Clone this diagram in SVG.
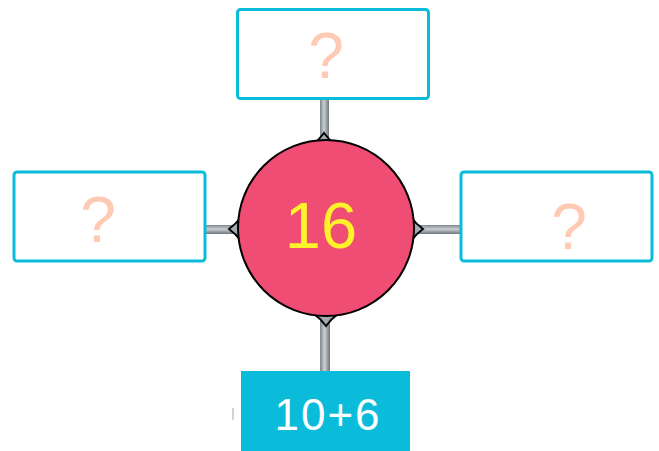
<svg xmlns="http://www.w3.org/2000/svg" width="659" height="451" viewBox="0 0 659 451">
  <defs>
    <linearGradient id="gv" x1="0" y1="0" x2="1" y2="0">
      <stop offset="0" stop-color="#7d868c"/>
      <stop offset="0.45" stop-color="#c9cfd3"/>
      <stop offset="1" stop-color="#6e777d"/>
    </linearGradient>
    <linearGradient id="gh" x1="0" y1="0" x2="0" y2="1">
      <stop offset="0" stop-color="#7d868c"/>
      <stop offset="0.45" stop-color="#c9cfd3"/>
      <stop offset="1" stop-color="#6e777d"/>
    </linearGradient>
    <path id="dia" d="M0,-12 Q5,-5 12,0 Q5,5 0,12 Q-5,5 -12,0 Q-5,-5 0,-12 Z"/>
  </defs>
  <style>
    .box { fill: #ffffff; stroke: #0bbcda; stroke-width: 3; }
    .q { font-family: "Liberation Sans", Arial, sans-serif; font-size: 64px; fill: #ffcab3; text-anchor: middle; }
    .dia { fill: #a3abb1; stroke: #000000; stroke-width: 2; }
  </style>
  <g id="connectors">
    <rect x="320" y="99" width="9" height="45" fill="url(#gv)"/>
    <rect x="320" y="313" width="10" height="58" fill="url(#gv)"/>
    <rect x="205" y="225" width="36" height="9" fill="url(#gh)"/>
    <rect x="411" y="225" width="49" height="9" fill="url(#gh)"/>
    <line x1="233" y1="408" x2="233" y2="420" stroke="#a0a6aa" stroke-width="1"/>
    <use href="#dia" class="dia" x="324" y="145"/>
    <use href="#dia" class="dia" x="326" y="314"/>
    <use href="#dia" class="dia" x="241" y="229"/>
    <use href="#dia" class="dia" x="411" y="229"/>
  </g>
  <g id="center">
    <circle cx="326" cy="228" r="88" fill="#ef4d73" stroke="#000000" stroke-width="2"/>
    <text x="321" y="248" font-family="Liberation Sans, Arial, sans-serif" font-size="65" fill="#fff12a" text-anchor="middle">16</text>
  </g>
  <g id="top">
    <rect class="box" x="237.5" y="9.5" width="191" height="89" rx="3"/>
    <text class="q" x="326" y="78">?</text>
  </g>
  <g id="left">
    <rect class="box" x="14" y="172" width="191" height="89" rx="3"/>
    <text class="q" x="98" y="242">?</text>
  </g>
  <g id="right">
    <rect class="box" x="461" y="172" width="191" height="89" rx="3"/>
    <text class="q" x="569" y="249">?</text>
  </g>
  <g id="bottom">
    <rect x="241" y="371" width="169" height="82" fill="#0bbcda"/>
    <text x="328" y="430" font-family="Liberation Sans, Arial, sans-serif" font-size="44" letter-spacing="2" fill="#ffffff" text-anchor="middle">10+6</text>
  </g>
</svg>
